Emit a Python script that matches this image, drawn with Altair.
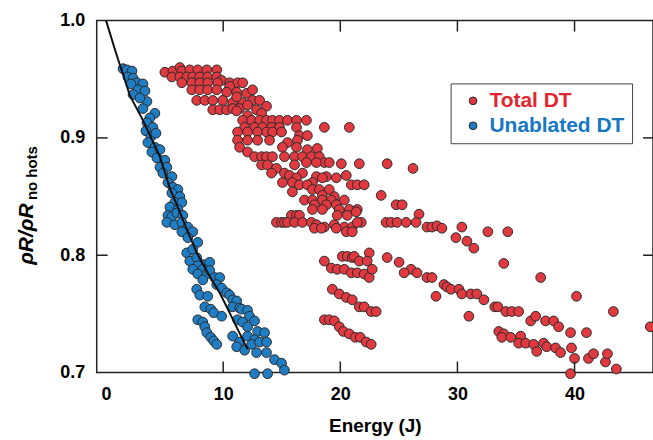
import altair as alt
import pandas as pd

# Black guide curve (Energy J, rhoR ratio)
curve_E = [0.0, 0.77, 1.19, 2.04, 3.15, 4.6, 5.45, 6.04, 6.9, 7.74, 8.85, 9.7, 10.55, 11.23, 12.08]
curve_rho = [1.0, 0.975, 0.962, 0.936, 0.915, 0.884, 0.857, 0.843, 0.822, 0.802, 0.782, 0.768, 0.751, 0.737, 0.720]

# Unablated DT (blue)
blue_E = [1.45, 1.79, 2.21, 1.87, 2.30, 2.64, 3.15, 2.13, 2.72, 3.32, 2.30, 3.49, 2.89, 3.15, 4.17, 3.74,
          3.49, 4.0, 3.40, 3.83, 4.26, 3.57, 4.17, 3.91, 4.60, 4.34, 5.02, 4.60, 5.19, 4.85, 5.62, 5.28,
          5.70, 6.13, 5.62, 6.30, 5.87, 6.47, 5.45, 6.13, 5.28, 5.62, 6.04, 6.55, 5.19, 5.87, 6.47, 6.98,
          6.47, 7.40, 6.98, 7.83, 6.89, 7.40, 7.15, 7.74, 8.26, 8.85, 7.83, 7.40, 8.26, 7.83, 8.60, 8.85,
          8.26, 9.28, 9.70, 9.45, 9.87, 10.3, 10.55, 10.81, 11.15, 10.81, 11.40, 7.74, 8.0, 8.68, 8.43,
          8.94, 9.19, 9.87, 7.83, 8.26, 8.43, 8.60, 8.94, 9.19, 9.45, 11.57, 12.08, 12.25, 12.68, 11.23,
          11.66, 12.08, 12.94, 13.53, 10.81, 12.08, 12.68, 11.40, 12.43, 13.11, 13.70, 11.15, 11.83,
          12.85, 13.70, 14.38, 14.98, 15.23, 12.68, 13.79]
blue_rho = [0.959, 0.958, 0.957, 0.952, 0.951, 0.947, 0.946, 0.946, 0.941, 0.940, 0.937, 0.931, 0.934,
            0.925, 0.921, 0.917, 0.913, 0.909, 0.906, 0.901, 0.904, 0.896, 0.892, 0.888, 0.890, 0.883,
            0.881, 0.875, 0.875, 0.870, 0.867, 0.862, 0.858, 0.856, 0.853, 0.850, 0.845, 0.845, 0.841,
            0.839, 0.834, 0.833, 0.836, 0.834, 0.828, 0.826, 0.828, 0.824, 0.820, 0.820, 0.815, 0.811,
            0.802, 0.805, 0.795, 0.798, 0.792, 0.794, 0.791, 0.788, 0.788, 0.784, 0.784, 0.787, 0.779,
            0.781, 0.781, 0.775, 0.772, 0.768, 0.766, 0.762, 0.761, 0.756, 0.755, 0.771, 0.766, 0.765,
            0.756, 0.754, 0.751, 0.748, 0.745, 0.743, 0.739, 0.734, 0.730, 0.727, 0.724, 0.754, 0.753,
            0.748, 0.744, 0.745, 0.743, 0.739, 0.735, 0.734, 0.731, 0.731, 0.728, 0.726, 0.724, 0.726,
            0.726, 0.722, 0.719, 0.717, 0.717, 0.711, 0.708, 0.702, 0.699, 0.699]

# Total DT (red)
red_E = [5.02, 5.70, 6.30, 6.47, 7.15, 7.83, 8.60, 9.45, 5.62, 6.30, 6.89, 7.40, 8.0, 8.68, 9.45, 9.87,
         10.55, 11.23, 11.66, 6.47, 7.32, 8.0, 8.68, 9.53, 10.55, 7.32, 8.0, 8.68, 9.45, 10.3, 11.15,
         12.0, 12.51, 7.74, 8.43, 9.11, 9.96, 10.81, 11.66, 12.51, 13.11, 11.15, 9.11, 9.70, 10.3, 10.81,
         11.40, 12.08, 12.85, 13.70, 11.15, 12.08, 13.28,
         11.66, 12.43, 13.11, 13.70, 14.21, 14.81, 15.49, 16.26, 17.11, 18.64, 20.77, 11.83, 12.68,
         13.36, 14.13, 14.81, 16.26, 11.23, 12.08, 12.94, 13.70, 14.21, 14.98, 16.51, 17.19, 11.23,
         12.08, 12.94, 13.96, 15.49, 16.34, 11.40, 15.06, 16.26, 17.19, 12.08, 18.04, 12.68, 13.28,
         13.70, 14.21, 15.23, 16.09, 16.77, 17.53, 18.21, 18.64, 19.06, 20.09, 21.62, 24.0, 26.21,
         13.28, 13.79, 14.55, 16.09, 17.11, 17.96, 14.13, 15.23, 15.66, 16.77, 17.96, 18.81, 20.51,
         16.26, 18.47, 19.66, 15.06, 15.91, 17.62, 16.51, 17.19, 20.94, 21.45, 22.04, 17.62, 18.21,
         19.06, 15.91, 23.49, 18.47, 19.49, 16.94, 17.62, 18.47, 19.23, 20.34, 17.79, 18.81, 19.66,
         24.77, 25.28, 19.91, 20.77, 21.45, 17.62, 18.47, 15.83, 16.26, 16.51, 19.74, 20.60, 21.36,
         26.72,
         14.55, 14.98, 15.23, 15.49, 16.09, 16.77, 17.53, 17.96, 18.64, 19.49, 20.34, 21.02, 21.79,
         21.45, 17.79, 18.38, 19.66, 20.51, 21.02, 23.91, 24.34, 24.85, 25.62, 26.47, 27.40, 27.83,
         28.26, 28.68, 30.38, 29.87, 30.81, 31.40, 32.60, 34.30,
         20.17, 20.60, 21.02, 21.19, 22.47, 18.64, 21.62, 22.30, 19.23, 19.74, 20.34, 20.94, 21.45,
         22.04, 22.47, 22.72, 24.0, 25.02, 26.04, 25.45, 26.55, 27.40, 27.83, 28.85, 29.11, 29.45,
         30.13, 30.38, 31.15, 31.66, 32.26, 28.17, 30.98, 33.19, 33.45, 34.13, 34.64, 35.23, 33.96,
         37.11, 40.17, 43.32, 46.47, 19.32, 19.91, 20.51, 21.02, 21.62, 22.04, 22.64, 23.06, 18.64,
         19.06, 19.49, 19.91, 20.26, 20.77, 21.28, 21.70, 22.21, 22.64,
         33.53, 33.96, 33.79, 34.55, 35.40, 35.23, 35.83, 36.51, 36.77, 37.36, 37.62, 38.38, 38.81,
         36.26, 36.68, 37.53, 38.21, 38.64, 39.66, 41.02, 39.74, 40.0, 39.66, 41.19, 41.62, 42.64,
         42.81, 43.57]
red_rho = [0.956, 0.957, 0.960, 0.957, 0.958, 0.958, 0.958, 0.958, 0.952, 0.952, 0.952, 0.952, 0.952,
           0.952, 0.952, 0.949, 0.947, 0.947, 0.947, 0.947, 0.947, 0.947, 0.947, 0.947, 0.944, 0.941,
           0.941, 0.941, 0.941, 0.939, 0.939, 0.938, 0.941, 0.932, 0.932, 0.932, 0.932, 0.930, 0.930,
           0.932, 0.932, 0.935, 0.924, 0.924, 0.924, 0.925, 0.925, 0.928, 0.924, 0.927, 0.923, 0.919,
           0.921,
           0.915, 0.915, 0.915, 0.915, 0.915, 0.915, 0.915, 0.915, 0.915, 0.909, 0.909, 0.909, 0.909,
           0.909, 0.909, 0.909, 0.909, 0.905, 0.905, 0.905, 0.905, 0.905, 0.905, 0.902, 0.902, 0.898,
           0.898, 0.898, 0.898, 0.896, 0.898, 0.892, 0.892, 0.892, 0.890, 0.888, 0.891, 0.884, 0.884,
           0.884, 0.884, 0.884, 0.884, 0.884, 0.884, 0.884, 0.879, 0.879, 0.878, 0.878, 0.878, 0.874,
           0.877, 0.877, 0.874, 0.877, 0.879, 0.879, 0.870, 0.870, 0.868, 0.870, 0.867, 0.867, 0.868,
           0.866, 0.866, 0.866, 0.862, 0.862, 0.862, 0.860, 0.860, 0.860, 0.860, 0.860, 0.856, 0.856,
           0.856, 0.854, 0.851, 0.851, 0.850, 0.847, 0.847, 0.847, 0.847, 0.847, 0.843, 0.843, 0.843,
           0.843, 0.843, 0.839, 0.839, 0.839, 0.839, 0.839, 0.834, 0.834, 0.834, 0.834, 0.834, 0.837,
           0.835,
           0.828, 0.828, 0.828, 0.828, 0.828, 0.828, 0.828, 0.826, 0.824, 0.826, 0.824, 0.824, 0.828,
           0.828, 0.823, 0.823, 0.823, 0.820, 0.820, 0.828, 0.828, 0.828, 0.828, 0.828, 0.824, 0.824,
           0.825, 0.823, 0.824, 0.815, 0.812, 0.806, 0.820, 0.820,
           0.799, 0.799, 0.798, 0.799, 0.802, 0.795, 0.795, 0.795, 0.789, 0.788, 0.788, 0.785, 0.785,
           0.784, 0.781, 0.788, 0.798, 0.794, 0.788, 0.785, 0.785, 0.781, 0.781, 0.775, 0.773, 0.771,
           0.771, 0.767, 0.767, 0.767, 0.762, 0.765, 0.748, 0.756, 0.756, 0.752, 0.752, 0.752, 0.793,
           0.781, 0.765, 0.752, 0.739, 0.771, 0.767, 0.764, 0.762, 0.756, 0.756, 0.752, 0.752, 0.745,
           0.745, 0.744, 0.739, 0.735, 0.733, 0.730, 0.730, 0.726, 0.724,
           0.735, 0.733, 0.730, 0.730, 0.731, 0.725, 0.725, 0.724, 0.718, 0.725, 0.722, 0.721, 0.717,
           0.744, 0.748, 0.744, 0.744, 0.739, 0.734, 0.734, 0.721, 0.712, 0.699, 0.712, 0.716, 0.709,
           0.716, 0.703]

series_names = ["Total DT", "Unablated DT"]
series_fill = ["#e0393f", "#1f7dc4"]
x_ticks = [0, 10, 20, 30, 40]
y_ticks = [0.7, 0.8, 0.9, 1.0]
inner_x_ticks = [10, 20, 30, 40]
inner_y_ticks = [0.8, 0.9]

W, H = 558, 353

pts = pd.concat([
    pd.DataFrame({"E": red_E, "rho": red_rho, "s": series_names[0]}),
    pd.DataFrame({"E": blue_E, "rho": blue_rho, "s": series_names[1]}),
])
curve = pd.DataFrame({"E": curve_E, "rho": curve_rho})

xs = alt.Scale(domain=[-0.8, 46.7], nice=False, zero=False)
ys = alt.Scale(domain=[0.7, 1.0], nice=False, zero=False)

xaxis = alt.Axis(values=x_ticks, format="d", ticks=False, domain=False, grid=False,
                 labelPadding=13, titlePadding=13, title="Energy (J)")
yaxis = alt.Axis(values=y_ticks, format=".1f", ticks=False, domain=False, grid=False,
                 labelPadding=12, title=None)

legend = alt.Legend(
    title=None, orient="none", legendX=355, legendY=63, direction="vertical",
    labelFont="Liberation Sans", labelFontSize=21, labelFontWeight="bold",
    labelColor=alt.ExprRef(expr="datum.label == 'Total DT' ? '#e2262f' : '#1677c2'"),
    symbolType="circle", symbolSize=60, symbolStrokeColor="#222222", symbolStrokeWidth=1,
    symbolOffset=5, labelOffset=6, padding=7, rowPadding=3,
    strokeColor="#444444", fillColor="white",
)

points = alt.Chart(pts).mark_point(filled=True, size=95, stroke="#2a2a2a", strokeWidth=1, opacity=1).encode(
    x=alt.X("E:Q", scale=xs, axis=xaxis),
    y=alt.Y("rho:Q", scale=ys, axis=yaxis),
    color=alt.Color("s:N", scale=alt.Scale(domain=series_names, range=series_fill), legend=legend),
)

line = alt.Chart(curve).mark_line(color="#111111", strokeWidth=2).encode(
    x=alt.X("E:Q", scale=xs), y=alt.Y("rho:Q", scale=ys)
)

tx = pd.DataFrame({"v": inner_x_ticks})
ty = pd.DataFrame({"v": inner_y_ticks})
tick_style = dict(color="#222222", strokeWidth=1.5)
bottom_ticks = alt.Chart(tx).mark_rule(**tick_style).encode(
    x=alt.X("v:Q", scale=xs), y=alt.value(H), y2=alt.value(H - 11))
top_ticks = alt.Chart(tx).mark_rule(**tick_style).encode(
    x=alt.X("v:Q", scale=xs), y=alt.value(0), y2=alt.value(11))
left_ticks = alt.Chart(ty).mark_rule(**tick_style).encode(
    y=alt.Y("v:Q", scale=ys), x=alt.value(0), x2=alt.value(11))
right_ticks = alt.Chart(ty).mark_rule(**tick_style).encode(
    y=alt.Y("v:Q", scale=ys), x=alt.value(W - 10), x2=alt.value(W))

title_main = alt.Chart(pd.DataFrame({"t": ["ρR/ρR"]})).mark_text(
    angle=270, align="left", baseline="alphabetic", font="Liberation Sans",
    fontSize=21, fontStyle="italic", fontWeight="bold", color="black"
).encode(text="t:N", x=alt.value(-64), y=alt.value(245))
title_sub = alt.Chart(pd.DataFrame({"t": ["no hots"]})).mark_text(
    angle=270, align="left", baseline="alphabetic", font="Liberation Sans",
    fontSize=15, fontWeight="bold", color="black"
).encode(text="t:N", x=alt.value(-60), y=alt.value(180))

chart = alt.layer(
    points, line, bottom_ticks, top_ticks, left_ticks, right_ticks, title_main, title_sub
).properties(
    width=W, height=H,
    autosize=alt.AutoSizeParams(type="none"),
    padding={"left": 97, "top": 20, "right": 0, "bottom": 67},
).configure_view(
    stroke="#222222", strokeWidth=1.5
).configure_axis(
    labelFont="Liberation Sans", labelFontSize=18, labelFontWeight="bold", labelColor="black",
    titleFont="Liberation Sans", titleFontSize=19, titleFontWeight="bold", titleColor="black",
)

chart.save("out.html", embed_options={"renderer": "svg", "actions": False})
